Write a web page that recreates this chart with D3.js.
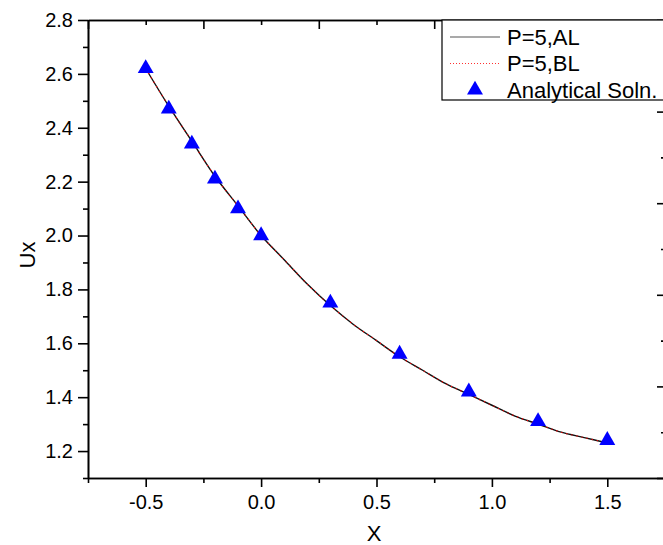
<!DOCTYPE html>
<html>
<head>
<meta charset="utf-8">
<script src="https://cdn.jsdelivr.net/npm/d3@7"></script>
<style>
  body { margin: 0; background: #fff; }
  svg { display: block; }
</style>
</head>
<body>
<svg class="chart" width="663" height="545"></svg>
<script>

// values
var lineX = [-0.5, -0.4, -0.3, -0.2, -0.1, 0.0, 0.1, 0.2, 0.3, 0.4, 0.5, 0.6, 0.7, 0.8, 0.9, 1.0, 1.1, 1.2, 1.3, 1.4, 1.5];
var alValues = [2.62, 2.48, 2.35, 2.22, 2.11, 2.00, 1.91, 1.82, 1.74, 1.67, 1.61, 1.55, 1.50, 1.45, 1.41, 1.37, 1.33, 1.30, 1.27, 1.25, 1.23];
var blValues = [2.62, 2.48, 2.35, 2.22, 2.11, 2.00, 1.91, 1.82, 1.74, 1.67, 1.61, 1.55, 1.50, 1.45, 1.41, 1.37, 1.33, 1.30, 1.27, 1.25, 1.23];
var exactX = [-0.5, -0.4, -0.3, -0.2, -0.1, 0.0, 0.3, 0.6, 0.9, 1.2, 1.5];
var exactValues = [2.62, 2.47, 2.34, 2.21, 2.10, 2.00, 1.75, 1.56, 1.42, 1.31, 1.24];

var xMajorTicks = [-0.5, 0.0, 0.5, 1.0, 1.5];
var xMinorTicks = [-0.75, -0.25, 0.25, 0.75, 1.25, 1.75];
var yMajorTicks = [1.2, 1.4, 1.6, 1.8, 2.0, 2.2, 2.4, 2.6, 2.8];
var yMinorTicks = [1.1, 1.3, 1.5, 1.7, 1.9, 2.1, 2.3, 2.5, 2.7];
var oppMajorTicks = [0, 1, 2, 3, 4, 5];
var oppMinorTicks = [0.5, 1.5, 2.5, 3.5, 4.5];

var legendLabels = ["P=5,AL", "P=5,BL", "Analytical Soln."];

var font = "Arial, 'Liberation Sans', sans-serif";
var plotLeft = 88, plotRight = 665, plotTop = 20, plotBottom = 478;

var svg = d3.select("svg.chart");

var x = d3.scaleLinear().domain([-0.75, 1.75]).range([plotLeft, plotRight]);
var y = d3.scaleLinear().domain([1.1, 2.8]).range([plotBottom, plotTop]);
// the top and right axes carry their own 0..5 scale (labels fall outside the picture)
var xTop = d3.scaleLinear().domain([0, 5]).range([plotLeft, plotRight]);
var yRight = d3.scaleLinear().domain([0, 5]).range([plotBottom, plotTop]);

function styleAxis(g) {
  g.select(".domain").attr("stroke", "#000").attr("stroke-width", 1.6);
  g.selectAll(".tick line").attr("stroke", "#000").attr("stroke-width", 1.6);
  g.selectAll(".tick text")
    .attr("fill", "#000")
    .style("font-family", font)
    .style("font-size", "20px");
}

// bottom axis
svg.append("g")
  .attr("transform", `translate(0, ${plotBottom})`)
  .call(d3.axisBottom(x).tickValues(xMinorTicks).tickSize(5).tickFormat("").tickSizeOuter(0))
  .call(styleAxis);
svg.append("g")
  .attr("transform", `translate(0, ${plotBottom})`)
  .call(d3.axisBottom(x).tickValues(xMajorTicks).tickSize(9).tickPadding(8).tickSizeOuter(0)
    .tickFormat(d => d3.format(".1f")(d).replace("−", "-")))
  .call(styleAxis);

// left axis
svg.append("g")
  .attr("transform", `translate(${plotLeft}, 0)`)
  .call(d3.axisLeft(y).tickValues(yMinorTicks).tickSize(5).tickFormat("").tickSizeOuter(0))
  .call(styleAxis);
svg.append("g")
  .attr("transform", `translate(${plotLeft}, 0)`)
  .call(d3.axisLeft(y).tickValues(yMajorTicks).tickSize(10).tickPadding(5).tickFormat(d3.format(".1f")).tickSizeOuter(0))
  .call(styleAxis);

// top axis, ticks pointing in
svg.append("g")
  .attr("transform", `translate(0, ${plotTop})`)
  .call(d3.axisBottom(xTop).tickValues(oppMinorTicks).tickSize(5).tickFormat("").tickSizeOuter(0))
  .call(styleAxis);
svg.append("g")
  .attr("transform", `translate(0, ${plotTop})`)
  .call(d3.axisBottom(xTop).tickValues(oppMajorTicks).tickSize(9).tickFormat("").tickSizeOuter(0))
  .call(styleAxis);

// right axis, ticks pointing in
svg.append("g")
  .attr("transform", `translate(${plotRight}, 0)`)
  .call(d3.axisLeft(yRight).tickValues(oppMinorTicks).tickSize(4).tickFormat("").tickSizeOuter(0))
  .call(styleAxis);
svg.append("g")
  .attr("transform", `translate(${plotRight}, 0)`)
  .call(d3.axisLeft(yRight).tickValues(oppMajorTicks).tickSize(8).tickFormat("").tickSizeOuter(0))
  .call(styleAxis);

// axis titles
svg.append("text")
  .text("X")
  .attr("x", 374)
  .attr("y", 541)
  .style("font-family", font)
  .style("font-size", "22px")
  .style("text-anchor", "middle");

svg.append("text")
  .text("Ux")
  .attr("transform", "translate(35, 255) rotate(-90)")
  .style("font-family", font)
  .style("font-size", "22px")
  .style("text-anchor", "middle");

// curves
var line = d3.line()
  .x(d => x(d[0]))
  .y(d => y(d[1]))
  .curve(d3.curveCatmullRom);

svg.append("path")
  .datum(lineX.map((d, i) => [d, alValues[i]]))
  .attr("d", line)
  .attr("fill", "none")
  .attr("stroke", "#111")
  .attr("stroke-width", 1.4);

svg.append("path")
  .datum(lineX.map((d, i) => [d, blValues[i]]))
  .attr("d", line)
  .attr("fill", "none")
  .attr("stroke", "#ff0000")
  .attr("stroke-width", 1.2)
  .attr("stroke-dasharray", "1.2,4");

// analytical points
var triangle = d3.symbol().type(d3.symbolTriangle).size(110);

svg.append("g")
  .selectAll("path")
  .data(exactX.map((d, i) => [d, exactValues[i]]))
  .join("path")
  .attr("d", triangle)
  .attr("transform", d => `translate(${x(d[0])}, ${y(d[1])})`)
  .attr("fill", "#0000ff");

// legend
var legend = svg.append("g").attr("transform", "translate(442, 20)");

legend.append("rect")
  .attr("x", 0)
  .attr("y", 0)
  .attr("width", 260)
  .attr("height", 80)
  .attr("fill", "#fff")
  .attr("stroke", "#000")
  .attr("stroke-width", 1.2);

legendLabels.forEach((label, i) => {
  var rowY = 17 + i * 26.5;
  if (i == 0) {
    legend.append("line")
      .attr("x1", 8).attr("x2", 58).attr("y1", rowY).attr("y2", rowY)
      .attr("stroke", "#555").attr("stroke-width", 1.2);
  } else if (i == 1) {
    legend.append("line")
      .attr("x1", 8).attr("x2", 58).attr("y1", rowY).attr("y2", rowY)
      .attr("stroke", "#ff3030").attr("stroke-width", 1)
      .attr("stroke-dasharray", "1,2");
  } else {
    legend.append("path")
      .attr("d", triangle)
      .attr("transform", `translate(33, ${rowY})`)
      .attr("fill", "#0000ff");
  }
  legend.append("text")
    .text(label)
    .attr("x", 65)
    .attr("y", rowY + 7.5)
    .style("font-family", font)
    .style("font-size", "22px");
});

</script>
</body>
</html>
